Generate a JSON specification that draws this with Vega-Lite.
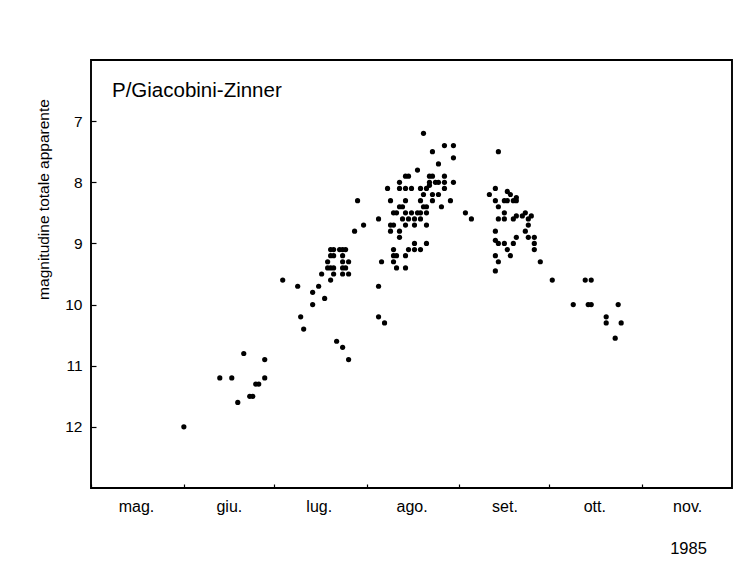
{
  "$schema": "https://vega.github.io/schema/vega-lite/v6.json",
  "width": 641,
  "height": 428,
  "autosize": {"type": "none"},
  "padding": {"left": 91, "top": 60, "right": 24, "bottom": 89},
  "background": "white",
  "config": {
    "view": {"stroke": "black", "strokeWidth": 1.9},
    "font": "Liberation Sans",
    "axis": {"grid": false, "domain": false, "labelColor": "black", "titleColor": "black", "tickColor": "black", "labelFont": "Liberation Sans", "titleFont": "Liberation Sans", "titleFontWeight": "normal"}
  },
  "datasets": {
    "osservazioni": [
      {"giorno": "1985-06-01", "magnitudine": 12.0},
      {"giorno": "1985-06-13", "magnitudine": 11.2},
      {"giorno": "1985-06-17", "magnitudine": 11.2},
      {"giorno": "1985-06-19", "magnitudine": 11.6},
      {"giorno": "1985-06-21", "magnitudine": 10.8},
      {"giorno": "1985-06-23", "magnitudine": 11.5},
      {"giorno": "1985-06-24", "magnitudine": 11.5},
      {"giorno": "1985-06-25", "magnitudine": 11.3},
      {"giorno": "1985-06-26", "magnitudine": 11.3},
      {"giorno": "1985-06-28", "magnitudine": 11.2},
      {"giorno": "1985-06-28", "magnitudine": 10.9},
      {"giorno": "1985-07-04", "magnitudine": 9.6},
      {"giorno": "1985-07-09", "magnitudine": 9.7},
      {"giorno": "1985-07-10", "magnitudine": 10.2},
      {"giorno": "1985-07-11", "magnitudine": 10.4},
      {"giorno": "1985-07-14", "magnitudine": 9.8},
      {"giorno": "1985-07-14", "magnitudine": 10.0},
      {"giorno": "1985-07-16", "magnitudine": 9.7},
      {"giorno": "1985-07-18", "magnitudine": 9.9},
      {"giorno": "1985-07-17", "magnitudine": 9.5},
      {"giorno": "1985-07-19", "magnitudine": 9.4},
      {"giorno": "1985-07-19", "magnitudine": 9.3},
      {"giorno": "1985-07-20", "magnitudine": 9.2},
      {"giorno": "1985-07-20", "magnitudine": 9.1},
      {"giorno": "1985-07-20", "magnitudine": 9.4},
      {"giorno": "1985-07-21", "magnitudine": 9.4},
      {"giorno": "1985-07-20", "magnitudine": 9.6},
      {"giorno": "1985-07-21", "magnitudine": 9.5},
      {"giorno": "1985-07-21", "magnitudine": 9.1},
      {"giorno": "1985-07-21", "magnitudine": 9.2},
      {"giorno": "1985-07-23", "magnitudine": 9.1},
      {"giorno": "1985-07-24", "magnitudine": 9.1},
      {"giorno": "1985-07-25", "magnitudine": 9.1},
      {"giorno": "1985-07-24", "magnitudine": 9.2},
      {"giorno": "1985-07-24", "magnitudine": 9.3},
      {"giorno": "1985-07-26", "magnitudine": 9.3},
      {"giorno": "1985-07-24", "magnitudine": 9.4},
      {"giorno": "1985-07-25", "magnitudine": 9.4},
      {"giorno": "1985-07-24", "magnitudine": 9.5},
      {"giorno": "1985-07-26", "magnitudine": 9.5},
      {"giorno": "1985-07-22", "magnitudine": 10.6},
      {"giorno": "1985-07-24", "magnitudine": 10.7},
      {"giorno": "1985-07-26", "magnitudine": 10.9},
      {"giorno": "1985-07-28", "magnitudine": 8.8},
      {"giorno": "1985-07-31", "magnitudine": 8.7},
      {"giorno": "1985-07-29", "magnitudine": 8.3},
      {"giorno": "1985-08-05", "magnitudine": 9.7},
      {"giorno": "1985-08-05", "magnitudine": 10.2},
      {"giorno": "1985-08-07", "magnitudine": 10.3},
      {"giorno": "1985-08-05", "magnitudine": 8.6},
      {"giorno": "1985-08-06", "magnitudine": 9.3},
      {"giorno": "1985-08-08", "magnitudine": 8.1},
      {"giorno": "1985-08-09", "magnitudine": 8.3},
      {"giorno": "1985-08-09", "magnitudine": 8.7},
      {"giorno": "1985-08-10", "magnitudine": 8.7},
      {"giorno": "1985-08-09", "magnitudine": 8.8},
      {"giorno": "1985-08-12", "magnitudine": 8.8},
      {"giorno": "1985-08-12", "magnitudine": 8.9},
      {"giorno": "1985-08-10", "magnitudine": 8.5},
      {"giorno": "1985-08-11", "magnitudine": 8.5},
      {"giorno": "1985-08-10", "magnitudine": 9.1},
      {"giorno": "1985-08-10", "magnitudine": 9.2},
      {"giorno": "1985-08-11", "magnitudine": 9.2},
      {"giorno": "1985-08-10", "magnitudine": 9.3},
      {"giorno": "1985-08-11", "magnitudine": 9.4},
      {"giorno": "1985-08-14", "magnitudine": 9.4},
      {"giorno": "1985-08-14", "magnitudine": 9.2},
      {"giorno": "1985-08-12", "magnitudine": 8.1},
      {"giorno": "1985-08-14", "magnitudine": 8.1},
      {"giorno": "1985-08-16", "magnitudine": 8.1},
      {"giorno": "1985-08-12", "magnitudine": 8.0},
      {"giorno": "1985-08-14", "magnitudine": 7.9},
      {"giorno": "1985-08-15", "magnitudine": 7.9},
      {"giorno": "1985-08-14", "magnitudine": 8.3},
      {"giorno": "1985-08-12", "magnitudine": 8.4},
      {"giorno": "1985-08-13", "magnitudine": 8.4},
      {"giorno": "1985-08-14", "magnitudine": 8.5},
      {"giorno": "1985-08-16", "magnitudine": 8.5},
      {"giorno": "1985-08-18", "magnitudine": 8.5},
      {"giorno": "1985-08-19", "magnitudine": 8.5},
      {"giorno": "1985-08-13", "magnitudine": 8.6},
      {"giorno": "1985-08-15", "magnitudine": 8.6},
      {"giorno": "1985-08-17", "magnitudine": 8.6},
      {"giorno": "1985-08-19", "magnitudine": 8.6},
      {"giorno": "1985-08-14", "magnitudine": 8.7},
      {"giorno": "1985-08-17", "magnitudine": 8.7},
      {"giorno": "1985-08-21", "magnitudine": 8.7},
      {"giorno": "1985-08-17", "magnitudine": 9.0},
      {"giorno": "1985-08-21", "magnitudine": 9.0},
      {"giorno": "1985-08-15", "magnitudine": 9.1},
      {"giorno": "1985-08-17", "magnitudine": 9.1},
      {"giorno": "1985-08-19", "magnitudine": 9.1},
      {"giorno": "1985-08-18", "magnitudine": 7.8},
      {"giorno": "1985-08-20", "magnitudine": 7.2},
      {"giorno": "1985-08-23", "magnitudine": 7.5},
      {"giorno": "1985-08-27", "magnitudine": 7.4},
      {"giorno": "1985-08-30", "magnitudine": 7.4},
      {"giorno": "1985-08-30", "magnitudine": 7.6},
      {"giorno": "1985-08-25", "magnitudine": 7.7},
      {"giorno": "1985-08-22", "magnitudine": 7.9},
      {"giorno": "1985-08-23", "magnitudine": 7.9},
      {"giorno": "1985-08-27", "magnitudine": 7.9},
      {"giorno": "1985-08-22", "magnitudine": 8.0},
      {"giorno": "1985-08-24", "magnitudine": 8.0},
      {"giorno": "1985-08-25", "magnitudine": 8.0},
      {"giorno": "1985-08-27", "magnitudine": 8.0},
      {"giorno": "1985-08-30", "magnitudine": 8.0},
      {"giorno": "1985-08-22", "magnitudine": 8.05},
      {"giorno": "1985-08-19", "magnitudine": 8.1},
      {"giorno": "1985-08-21", "magnitudine": 8.1},
      {"giorno": "1985-08-27", "magnitudine": 8.1},
      {"giorno": "1985-08-20", "magnitudine": 8.2},
      {"giorno": "1985-08-23", "magnitudine": 8.2},
      {"giorno": "1985-08-25", "magnitudine": 8.2},
      {"giorno": "1985-08-19", "magnitudine": 8.3},
      {"giorno": "1985-08-23", "magnitudine": 8.3},
      {"giorno": "1985-08-29", "magnitudine": 8.3},
      {"giorno": "1985-08-20", "magnitudine": 8.4},
      {"giorno": "1985-08-21", "magnitudine": 8.4},
      {"giorno": "1985-08-26", "magnitudine": 8.4},
      {"giorno": "1985-08-21", "magnitudine": 8.5},
      {"giorno": "1985-09-03", "magnitudine": 8.5},
      {"giorno": "1985-09-05", "magnitudine": 8.6},
      {"giorno": "1985-09-14", "magnitudine": 7.5},
      {"giorno": "1985-09-13", "magnitudine": 8.1},
      {"giorno": "1985-09-11", "magnitudine": 8.2},
      {"giorno": "1985-09-17", "magnitudine": 8.15},
      {"giorno": "1985-09-18", "magnitudine": 8.2},
      {"giorno": "1985-09-20", "magnitudine": 8.25},
      {"giorno": "1985-09-20", "magnitudine": 8.3},
      {"giorno": "1985-09-13", "magnitudine": 8.3},
      {"giorno": "1985-09-16", "magnitudine": 8.3},
      {"giorno": "1985-09-17", "magnitudine": 8.3},
      {"giorno": "1985-09-19", "magnitudine": 8.3},
      {"giorno": "1985-09-14", "magnitudine": 8.4},
      {"giorno": "1985-09-16", "magnitudine": 8.5},
      {"giorno": "1985-09-14", "magnitudine": 8.6},
      {"giorno": "1985-09-16", "magnitudine": 8.6},
      {"giorno": "1985-09-19", "magnitudine": 8.6},
      {"giorno": "1985-09-20", "magnitudine": 8.55},
      {"giorno": "1985-09-22", "magnitudine": 8.55},
      {"giorno": "1985-09-23", "magnitudine": 8.5},
      {"giorno": "1985-09-25", "magnitudine": 8.55},
      {"giorno": "1985-09-24", "magnitudine": 8.6},
      {"giorno": "1985-09-24", "magnitudine": 8.7},
      {"giorno": "1985-09-23", "magnitudine": 8.8},
      {"giorno": "1985-09-24", "magnitudine": 8.9},
      {"giorno": "1985-09-13", "magnitudine": 8.8},
      {"giorno": "1985-09-13", "magnitudine": 8.95},
      {"giorno": "1985-09-26", "magnitudine": 8.9},
      {"giorno": "1985-09-26", "magnitudine": 9.0},
      {"giorno": "1985-09-26", "magnitudine": 9.1},
      {"giorno": "1985-09-20", "magnitudine": 8.9},
      {"giorno": "1985-09-14", "magnitudine": 9.0},
      {"giorno": "1985-09-16", "magnitudine": 9.0},
      {"giorno": "1985-09-19", "magnitudine": 9.0},
      {"giorno": "1985-09-17", "magnitudine": 9.1},
      {"giorno": "1985-09-18", "magnitudine": 9.2},
      {"giorno": "1985-09-13", "magnitudine": 9.2},
      {"giorno": "1985-09-14", "magnitudine": 9.3},
      {"giorno": "1985-09-28", "magnitudine": 9.3},
      {"giorno": "1985-09-13", "magnitudine": 9.45},
      {"giorno": "1985-10-02", "magnitudine": 9.6},
      {"giorno": "1985-10-09", "magnitudine": 10.0},
      {"giorno": "1985-10-13", "magnitudine": 9.6},
      {"giorno": "1985-10-15", "magnitudine": 9.6},
      {"giorno": "1985-10-14", "magnitudine": 10.0},
      {"giorno": "1985-10-15", "magnitudine": 10.0},
      {"giorno": "1985-10-24", "magnitudine": 10.0},
      {"giorno": "1985-10-20", "magnitudine": 10.2},
      {"giorno": "1985-10-20", "magnitudine": 10.3},
      {"giorno": "1985-10-25", "magnitudine": 10.3},
      {"giorno": "1985-10-23", "magnitudine": 10.55}
    ],
    "etichetta": [
      {"giorno": "1985-05-08", "magnitudine": 6.5, "testo": "P/Giacobini-Zinner"}
    ]
  },
  "encoding": {
    "x": {
      "field": "giorno",
      "type": "temporal",
      "scale": {"type": "utc", "domain": [{"year": 1985, "month": 5, "date": 1, "utc": true}, {"year": 1985, "month": 12, "date": 1, "utc": true}], "nice": false},
      "axis": {
        "title": "1985",
        "titleX": 597,
        "titleY": 60,
        "titleAlign": "center",
        "titleBaseline": "middle",
        "titleFontSize": 16.5,
        "values": [
          {"year": 1985, "month": 5, "date": 1, "utc": true},
          {"year": 1985, "month": 6, "date": 1, "utc": true},
          {"year": 1985, "month": 7, "date": 1, "utc": true},
          {"year": 1985, "month": 8, "date": 1, "utc": true},
          {"year": 1985, "month": 9, "date": 1, "utc": true},
          {"year": 1985, "month": 10, "date": 1, "utc": true},
          {"year": 1985, "month": 11, "date": 1, "utc": true}
        ],
        "labelExpr": "['gen.','feb.','mar.','apr.','mag.','giu.','lug.','ago.','set.','ott.','nov.','dic.'][utcmonth(datum.value)]",
        "labelOffset": 45,
        "labelFlush": false,
        "labelOverlap": false,
        "labelBound": false,
        "labelFontSize": 16,
        "labelPadding": 14,
        "tickSize": -4,
        "tickWidth": 1.2
      }
    },
    "y": {
      "field": "magnitudine",
      "type": "quantitative",
      "scale": {"domain": [6, 13], "reverse": true, "nice": false, "zero": false},
      "axis": {
        "title": "magnitudine totale apparente",
        "titleX": -48,
        "titleY": 139,
        "titleAngle": -90,
        "titleAlign": "center",
        "titleBaseline": "middle",
        "titleFontSize": 15.5,
        "values": [7, 8, 9, 10, 11, 12],
        "labelFontSize": 15.5,
        "labelPadding": 14,
        "tickSize": -5,
        "tickWidth": 1.2
      }
    }
  },
  "layer": [
    {
      "data": {"name": "osservazioni"},
      "mark": {"type": "circle", "size": 27, "color": "black", "opacity": 1}
    },
    {
      "data": {"name": "etichetta"},
      "mark": {"type": "text", "align": "left", "baseline": "middle", "fontSize": 20.5, "font": "Liberation Sans", "color": "black"},
      "encoding": {"text": {"field": "testo"}}
    }
  ]
}
